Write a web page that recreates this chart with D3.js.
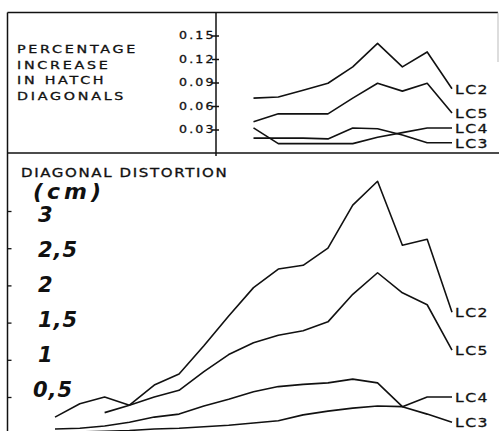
<!DOCTYPE html>
<html>
<head>
<meta charset="utf-8">
<script src="https://cdn.jsdelivr.net/npm/d3@7/dist/d3.min.js"></script>
<style>
  body { margin: 0; background: #fff; }
  svg { display: block; }
  text { font-family: "DejaVu Sans", sans-serif; fill: #111; }
  .lettering { stroke: #111; stroke-width: 0.3; }
</style>
</head>
<body>
<div id="chart"></div>
<script>
// sampling stations along the hatch (no x labels in the original)
const stations = [1, 2, 3, 4, 5, 6, 7, 8, 9, 10, 11, 12, 13, 14, 15, 16, 17];
const topStations = [9, 10, 11, 12, 13, 14, 15, 16, 17];

const seriesNames = ["LC2", "LC5", "LC4", "LC3"];

// percentage increase in hatch diagonals (top panel)
const incLC2 = [0.070, 0.0715, 0.080, 0.089, 0.110, 0.140, 0.110, 0.129, 0.082];
const incLC5 = [0.040, 0.050, 0.050, 0.050, 0.070, 0.089, 0.079, 0.089, 0.051];
const incLC4 = [0.032, 0.012, 0.012, 0.012, 0.012, 0.020, 0.026, 0.032, 0.032];
const incLC3 = [0.019, 0.019, 0.019, 0.018, 0.032, 0.031, 0.023, 0.013, 0.013];

// diagonal distortion in cm (bottom panel)
const distLC2 = [0.23, 0.41, 0.50, 0.39, 0.66, 0.81, 1.19, 1.59, 1.97, 2.22, 2.27, 2.50, 3.08, 3.40, 2.54, 2.62, 1.64];
const distLC5 = [null, null, 0.29, 0.39, 0.50, 0.59, 0.84, 1.07, 1.23, 1.33, 1.39, 1.51, 1.88, 2.17, 1.90, 1.74, 1.13];
const distLC4 = [0.02, 0.03, 0.04, 0.05, 0.07, 0.08, 0.10, 0.12, 0.15, 0.18, 0.26, 0.31, 0.35, 0.38, 0.37, 0.50, 0.50];
const distLC3 = [0.07, 0.08, 0.11, 0.16, 0.23, 0.27, 0.38, 0.47, 0.57, 0.64, 0.67, 0.69, 0.74, 0.69, 0.37, 0.27, 0.16];

const topTicks = [0.03, 0.06, 0.09, 0.12, 0.15];
const topTickLabels = ["0.03", "0.06", "0.09", "0.12", "0.15"];
const bottomTicks = [0.5, 1, 1.5, 2, 2.5, 3];
const bottomTickLabels = ["0,5", "1", "1,5", "2", "2,5", "3"];
const topTitle = ["PERCENTAGE", "INCREASE", "IN HATCH", "DIAGONALS"];
const bottomTitle = "DIAGONAL DISTORTION";
const unitLabel = "(cm)";

const width = 499, height = 431;
const frame = { left: 7.5, top: 12.5, right: 498, split: 153, axisX: 216 };

const svg = d3.select("#chart").append("svg")
  .attr("width", width)
  .attr("height", height);

const x = d3.scaleLinear().domain([1, 17]).range([55, 452]);
const yTop = d3.scaleLinear().domain([0, 0.15]).range([frame.split, 35.5]);
const yBot = d3.scaleLinear().domain([0, 3]).range([434.2, 211]);
// the hand lettered numbers sit a little off the ticks
const yHand = d3.scaleLinear().domain([0.5, 3]).range([397, 222]);

// stencil lettering is wider than any installed font, so stretch it
function lettering(sel, size, sx, ls) {
  return sel.attr("class", "lettering")
    .attr("font-size", size)
    .attr("letter-spacing", ls)
    .attr("transform", function() {
      const t = d3.select(this);
      return `translate(${t.attr("x")},${t.attr("y")}) scale(${sx},1)`;
    })
    .attr("x", 0)
    .attr("y", 0);
}

// frame
const fr = svg.append("g").attr("stroke", "#111").attr("stroke-width", 1.5).attr("fill", "none");
fr.append("line").attr("x1", frame.left).attr("y1", frame.top).attr("x2", frame.left).attr("y2", height);
fr.append("line").attr("x1", frame.left).attr("y1", frame.top).attr("x2", frame.right).attr("y2", frame.top);
fr.append("line").attr("x1", frame.left).attr("y1", frame.split).attr("x2", width).attr("y2", frame.split);
fr.append("line").attr("x1", frame.axisX).attr("y1", frame.top).attr("x2", frame.axisX).attr("y2", frame.split + 3);
fr.append("line").attr("x1", frame.right).attr("y1", frame.top).attr("x2", frame.right).attr("y2", 62)
  .attr("stroke", "#bbb").attr("stroke-width", 1);

// top axis ticks
svg.append("g")
  .attr("transform", `translate(${frame.axisX},0)`)
  .call(d3.axisLeft(yTop).tickValues(topTicks).tickSizeInner(4).tickSizeOuter(0).tickFormat(""))
  .call(g => g.select(".domain").remove())
  .call(g => g.selectAll(".tick line").attr("x2", 3).attr("x1", -4).attr("stroke", "#111").attr("stroke-width", 1.5));

svg.append("g").selectAll("text")
  .data(topTicks)
  .join("text")
  .attr("x", 179)
  .attr("y", d => yTop(d) + 3.5)
  .text((d, i) => topTickLabels[i])
  .call(lettering, 10.5, 1.2, 1.8);

// bottom axis ticks
svg.append("g")
  .attr("transform", `translate(${frame.left},0)`)
  .call(d3.axisRight(yBot).tickValues(bottomTicks).tickSizeInner(4).tickSizeOuter(0).tickFormat(""))
  .call(g => g.select(".domain").remove())
  .call(g => g.selectAll(".tick line").attr("stroke", "#111").attr("stroke-width", 1.3));

svg.append("g").selectAll("text")
  .data(bottomTicks)
  .join("text")
  .attr("x", d => d === 0.5 ? 33 : 38)
  .attr("y", d => yHand(d))
  .attr("font-family", "Liberation Sans")
  .attr("font-style", "italic")
  .attr("font-weight", "bold")
  .attr("font-size", 21)
  .attr("letter-spacing", 1)
  .text((d, i) => bottomTickLabels[i]);

// titles
svg.append("g").selectAll("text")
  .data(topTitle)
  .join("text")
  .attr("x", 17)
  .attr("y", (d, i) => 53 + i * 15.5)
  .text(d => d)
  .call(lettering, 11, 1.3, 2.1);

svg.append("text")
  .attr("x", 21)
  .attr("y", 177)
  .text(bottomTitle)
  .call(lettering, 12, 1.25, 1.3);

svg.append("text")
  .attr("x", 33)
  .attr("y", 199)
  .attr("font-family", "Liberation Sans")
  .attr("font-style", "italic")
  .attr("font-weight", "bold")
  .attr("font-size", 22)
  .attr("letter-spacing", 4)
  .text(unitLabel);

// lines
function drawPanel(xs, seriesList, y) {
  const line = d3.line()
    .defined(d => d[1] != null)
    .x(d => x(d[0]))
    .y(d => y(d[1]));

  const g = svg.append("g");
  seriesList.forEach((vals, i) => {
    const pts = xs.map((s, j) => [s, vals[j]]);
    g.append("path")
      .attr("d", line(pts))
      .attr("fill", "none")
      .attr("stroke", "#111")
      .attr("stroke-width", 1.6)
      .attr("stroke-linejoin", "round");
    const last = pts[pts.length - 1];
    g.append("text")
      .attr("x", x(last[0]) + 3)
      .attr("y", y(last[1]) + 5)
      .text(seriesNames[i])
      .call(lettering, 12.5, 1.25, 1.2);
  });
}

drawPanel(topStations, [incLC2, incLC5, incLC4, incLC3], yTop);
drawPanel(stations, [distLC2, distLC5, distLC4, distLC3], yBot);
</script>
</body>
</html>
